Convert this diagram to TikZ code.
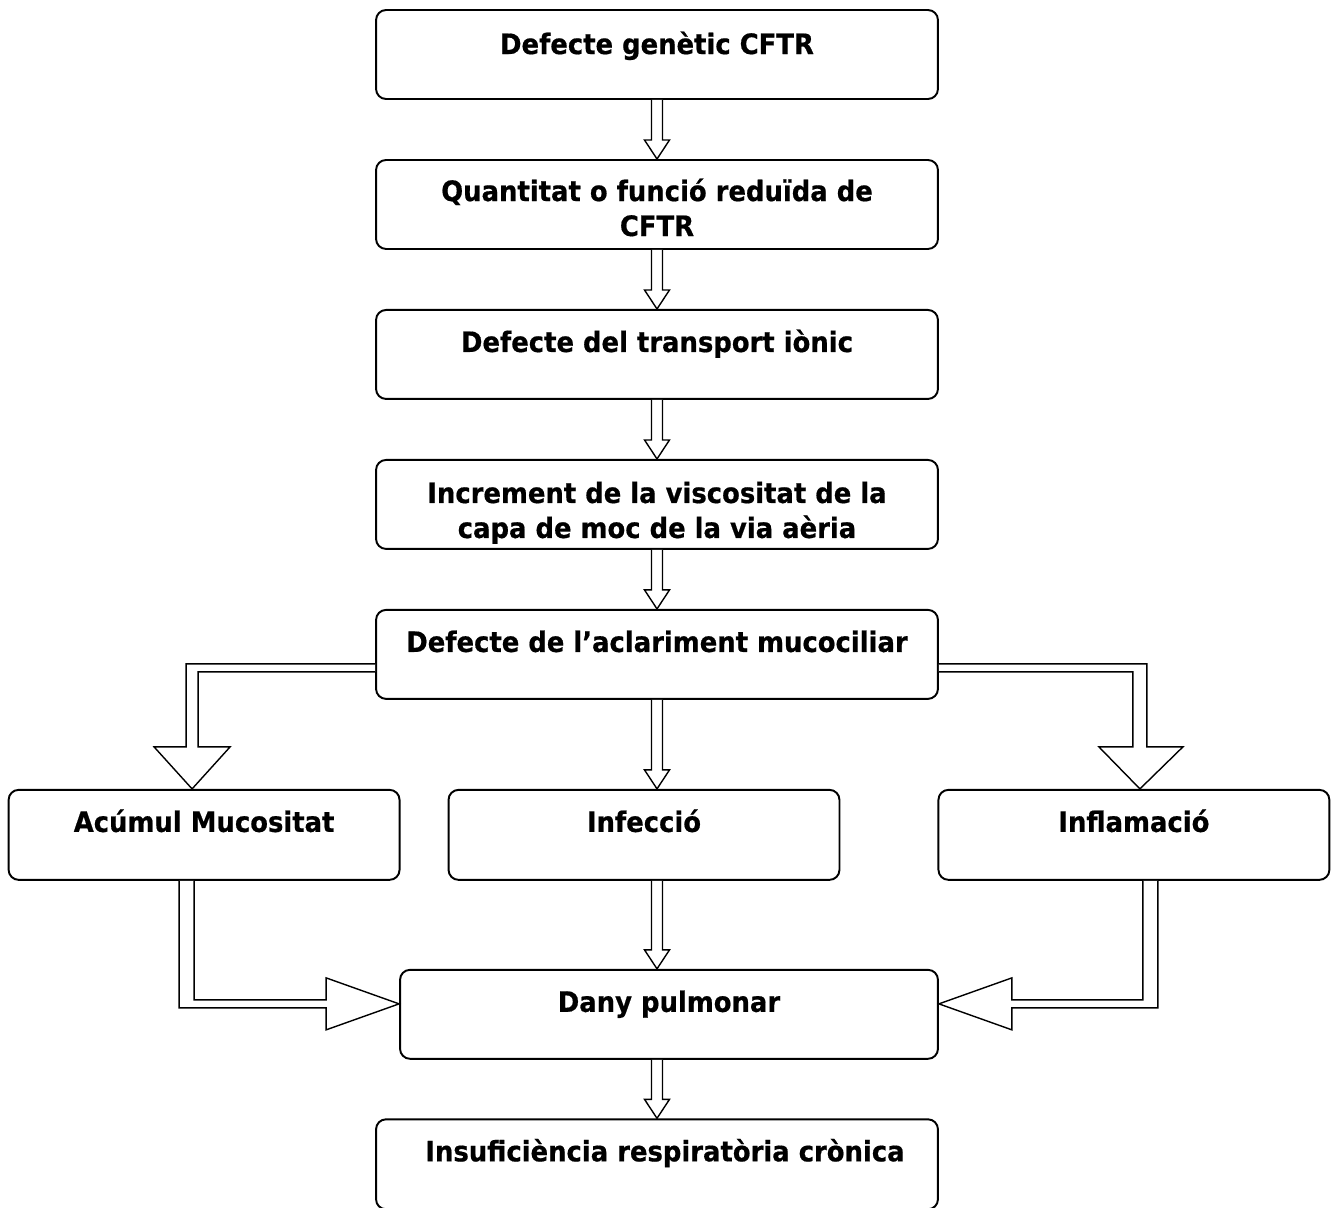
\documentclass[tikz,border=0pt]{standalone}
\usepackage{fontspec}
\setmainfont{DejaVu Sans}[FakeStretch=0.92, BoldFeatures={FakeBold=0.6}]
\usetikzlibrary{calc}

% hollow block arrow going down, from #1 to the tip #2
\newcommand{\vblock}[2]{%
  \draw[blk] ($#1+(-5.5,0)$) -- ($#2+(-5.5,-19)$) -- ($#2+(-12.5,-19)$) -- #2
    -- ($#2+(12.5,-19)$) -- ($#2+(5.5,-19)$) -- ($#1+(5.5,0)$);}

\begin{document}
\begin{tikzpicture}[x=0.02cm, y=-0.02cm, node distance=3cm]
    \tikzset{box/.style={rectangle, draw, line width=1.1pt, rounded corners=0.2cm,
                         minimum width=11.24cm, minimum height=1.78cm, inner sep=0pt}}
    \tikzset{sbox/.style={box, minimum width=7.82cm, minimum height=1.8cm}}
    \tikzset{lbl/.style={font=\fontsize{16}{19.9}\selectfont\bfseries, align=center,
                         inner sep=0pt, anchor=base}}
    \tikzset{blk/.style={draw, line width=0.8pt, line join=miter, fill=white}}

    \useasboundingbox (0,0) rectangle (1338,1207);

    % main column
    \node [box] (gen) at (657,54.5) {};
    \node [box, below of=gen] (red) {};
    \node [box, below of=red] (ion) {};
    \node [box, below of=ion] (visc) {};
    \node [box, below of=visc] (muc) {};

    % three consequences
    \node [sbox, below of=muc, node distance=3.61cm, xshift=-9.06cm] (acu) {};
    \node [sbox, below of=muc, node distance=3.61cm, xshift=-0.26cm] (inf) {};
    \node [sbox, below of=muc, node distance=3.61cm, xshift=9.54cm] (infl) {};

    \node [box, minimum width=10.76cm, below of=inf, node distance=3.59cm, xshift=0.5cm] (dany) {};
    \node [box, minimum height=1.8cm, below of=dany, node distance=3cm, xshift=-0.24cm] (insu) {};

    % texts (base of a two-line text is its last line)
    \node [lbl] (gen-t) at ($(gen.north)+(0,45)$) {Defecte genètic CFTR};
    \node [lbl] (red-t) at ($(red.north)+(0,77)$) {Quantitat o funció reduïda de\\CFTR};
    \node [lbl] (ion-t) at ($(ion.north)+(0,43)$) {Defecte del transport iònic};
    \node [lbl] (visc-t) at ($(visc.north)+(0,79)$) {Increment de la viscositat de la\\capa de moc de la via aèria};
    \node [lbl] (muc-t) at ($(muc.north)+(0,43)$) {Defecte de l’aclariment mucociliar};
    \node [lbl] (acu-t) at ($(acu.north)+(0,43)$) {Acúmul Mucositat};
    \node [lbl] (inf-t) at ($(inf.north)+(0,43)$) {Infecció};
    \node [lbl] (infl-t) at ($(infl.north)+(0,43)$) {Inflamació};
    \node [lbl] (dany-t) at ($(dany.north)+(0,43)$) {Dany pulmonar};
    \node [lbl] (insu-t) at ($(insu.north)+(8,43)$) {Insuficiència respiratòria crònica};

    % arrows
    \vblock{(gen.south)}{(gen.south |- red.north)}
    \vblock{(red.south)}{(red.south |- ion.north)}
    \vblock{(ion.south)}{(ion.south |- visc.north)}
    \vblock{(visc.south)}{(visc.south |- muc.north)}
    \vblock{(muc.south)}{(muc.south |- inf.north)}
    \vblock{(muc.south |- inf.south)}{(muc.south |- dany.north)}
    \vblock{(muc.south |- dany.south)}{(muc.south |- insu.north)}

    \draw [blk] ($(muc.north west)+(0,55)$) -| ($(acu.north)+(-18,-42)$) -- ($(acu.north)+(-50,-42)$)
        -- ($(acu.north)+(-12,0)$) -- ($(acu.north)+(26,-42)$) -- ($(acu.north)+(-6,-42)$)
        |- ($(muc.north west)+(0,63)$);
    \draw [blk] ($(muc.north east)+(0,55)$) -| ($(infl.north)+(13,-42)$) -- ($(infl.north)+(49,-42)$)
        -- ($(infl.north)+(6,0)$) -- ($(infl.north)+(-35,-42)$) -- ($(infl.north)+(-1,-42)$)
        |- ($(muc.north east)+(0,63)$);

    \draw [blk] ($(acu.south)+(-25,0)$) |- ($(dany.north west)+(-73,39)$) -- ($(dany.north west)+(-73,61)$)
        -- ($(dany.north west)+(0,35)$) -- ($(dany.north west)+(-73,9)$) -- ($(dany.north west)+(-73,31)$)
        -| ($(acu.south)+(-10,0)$);
    \draw [blk] ($(infl.south)+(24,0)$) |- ($(dany.north east)+(73,39)$) -- ($(dany.north east)+(73,61)$)
        -- ($(dany.north east)+(0,35)$) -- ($(dany.north east)+(73,9)$) -- ($(dany.north east)+(73,31)$)
        -| ($(infl.south)+(9,0)$);
\end{tikzpicture}
\end{document}
